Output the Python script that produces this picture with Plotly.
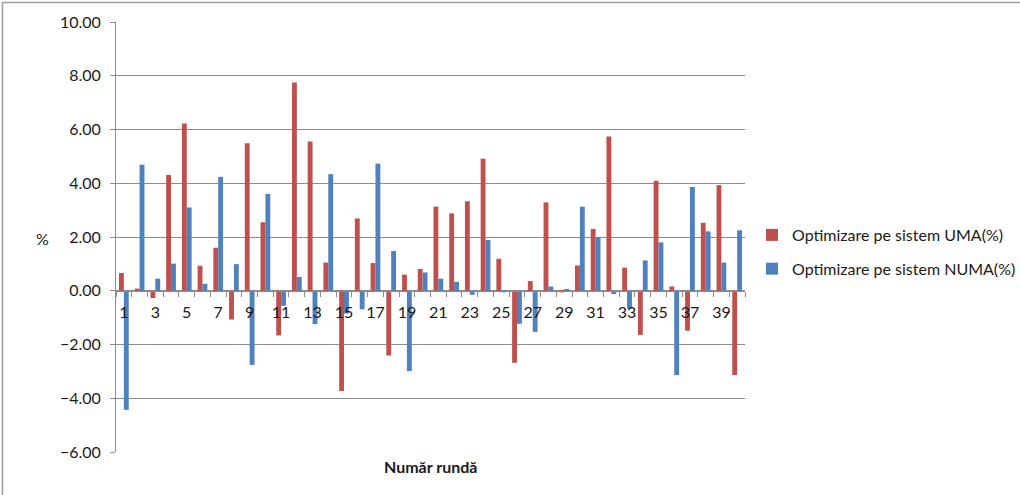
import plotly.graph_objects as go

# Round numbers (categories) and measured optimisation gains, in percent
runde = list(range(1, 41))
uma = [0.66, 0.08, -0.27, 4.31, 6.22, 0.93, 1.60, -1.07, 5.49, 2.55,
       -1.66, 7.75, 5.55, 1.05, -3.73, 2.69, 1.03, -2.41, 0.60, 0.81,
       3.13, 2.88, 3.33, 4.91, 1.19, -2.68, 0.36, 3.29, -0.06, 0.94,
       2.30, 5.74, 0.86, -1.64, 4.09, 0.16, -1.49, 2.53, 3.93, -3.14]
numa = [-4.43, 4.69, 0.45, 1.01, 3.10, 0.26, 4.24, 0.99, -2.76, 3.60,
        -0.56, 0.51, -1.24, 4.34, -0.85, -0.69, 4.73, 1.48, -2.99, 0.68,
        0.45, 0.33, -0.15, 1.89, -0.06, -1.23, -1.53, 0.16, 0.04, 3.13,
        2.00, -0.12, -0.67, 1.13, 1.80, -3.14, 3.86, 2.21, 1.05, 2.25]
y_ticks = [-6, -4, -2, 0, 2, 4, 6, 8, 10]
x_tick_labels = [str(n) for n in runde if n % 2 == 1]

RED = "#C0504D"
BLUE = "#4F81BD"
GRID = "#8c8c8c"
FONT = "Lato"
TEXT = "#1a1a1a"

W, H = 1020, 495
L, R, T, B = 116, 275, 22, 43
Y_MIN, Y_MAX = -6, 10


def px_x(px):
    return (px - L) / (W - L - R)


def px_y(py):
    return (H - B - py) / (H - T - B)


fig = go.Figure()
fig.add_trace(go.Bar(x=runde, y=uma, name="Optimizare pe sistem UMA(%)",
                     marker=dict(color=RED, line=dict(width=0)),
                     legendgroup="uma"))
fig.add_trace(go.Bar(x=runde, y=numa, name="Optimizare pe sistem NUMA(%)",
                     marker=dict(color=BLUE, line=dict(width=0)),
                     legendgroup="numa"))

zero_pos = (0 - Y_MIN) / (Y_MAX - Y_MIN)

fig.update_layout(
    width=W, height=H,
    margin=dict(l=L, r=R, t=T, b=B, pad=0, autoexpand=False),
    paper_bgcolor="white", plot_bgcolor="white",
    barmode="group", bargap=0.38, bargroupgap=0,
    font=dict(family=FONT, size=16, color=TEXT),
    legend=dict(x=px_x(752), y=px_y(218), xanchor="left", yanchor="top",
                font=dict(family=FONT, size=16, color=TEXT),
                traceorder="grouped", tracegroupgap=10,
                bgcolor="rgba(0,0,0,0)"),
    xaxis=dict(
        range=[0.5, 40.5],
        anchor="free", position=zero_pos,
        tickmode="array",
        tickvals=[n for n in runde if n % 2 == 1],
        ticktext=x_tick_labels,
        ticks="outside", ticklen=7, tickcolor="rgba(0,0,0,0)",
        minor=dict(tickmode="array",
                   tickvals=[n + 0.5 for n in range(0, 41)],
                   ticks="outside", ticklen=5, tickcolor=GRID, tickwidth=1),
        showline=True, linecolor=GRID, linewidth=1,
        showgrid=False, zeroline=False,
        tickfont=dict(family=FONT, size=16, color=TEXT),
    ),
    yaxis=dict(
        range=[Y_MIN, Y_MAX],
        tickmode="array", tickvals=y_ticks,
        tickformat=".2f",
        ticks="outside", ticklen=5, tickcolor=GRID,
        ticklabelstandoff=6,
        showline=True, linecolor=GRID, linewidth=1,
        showgrid=True, gridcolor=GRID, gridwidth=1,
        zeroline=False,
        tickfont=dict(family=FONT, size=16, color=TEXT),
    ),
    annotations=[
        dict(text="%", xref="paper", yref="paper", x=px_x(42), y=px_y(238),
             showarrow=False, xanchor="center", yanchor="middle",
             font=dict(family=FONT, size=16, color=TEXT)),
        dict(text="<b>Număr rundă</b>", xref="paper", yref="paper",
             x=px_x(431), y=px_y(466), showarrow=False,
             xanchor="center", yanchor="middle",
             font=dict(family=FONT, size=16, color=TEXT)),
    ],
    shapes=[
        dict(type="rect", xref="paper", yref="paper",
             x0=px_x(2.5), x1=px_x(1030), y0=px_y(2.5), y1=px_y(505),
             line=dict(color="#a0a0a0", width=1.5), fillcolor="rgba(0,0,0,0)",
             layer="below"),
    ],
)

fig.write_html("out.html")
